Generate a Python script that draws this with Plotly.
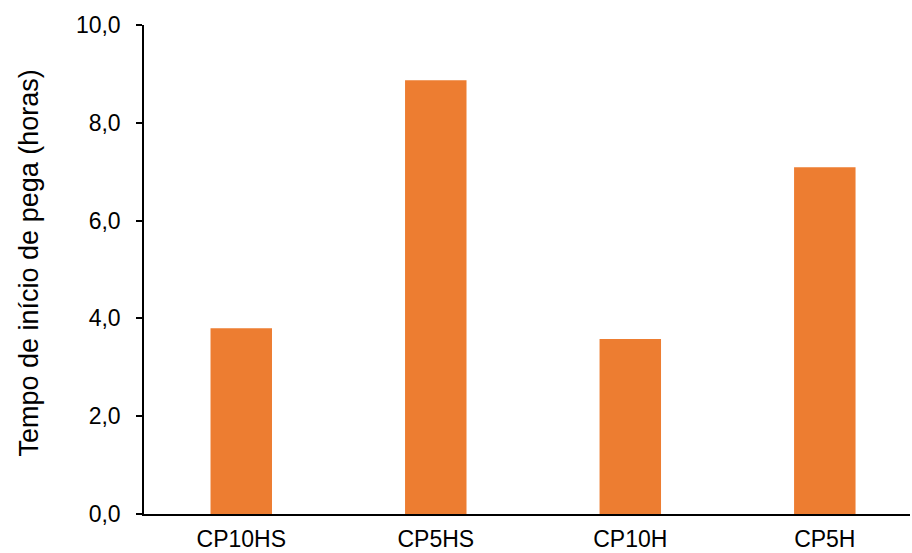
import plotly.graph_objects as go

categories = ["CP10HS", "CP5HS", "CP10H", "CP5H"]
values = [3.80, 8.87, 3.58, 7.09]
y_ticks = [0, 2, 4, 6, 8, 10]
y_tick_labels = ["0,0", "2,0", "4,0", "6,0", "8,0", "10,0"]
y_title = "Tempo de início de pega (horas)"

fig = go.Figure(
    go.Bar(
        x=list(range(len(categories))),
        y=values,
        width=0.316,
        marker=dict(color="#ED7D31", line=dict(width=0)),
    )
)

fig.update_layout(
    width=912,
    height=553,
    margin=dict(l=144, r=2, t=25, b=39, autoexpand=False),
    paper_bgcolor="white",
    plot_bgcolor="white",
    font=dict(family="Liberation Sans, Arial, sans-serif", color="black"),
    showlegend=False,
    annotations=[
        dict(
            text=y_title,
            xref="paper",
            yref="paper",
            x=0,
            y=0.5,
            xshift=-116,
            yshift=6,
            xanchor="center",
            yanchor="middle",
            textangle=-90,
            showarrow=False,
            font=dict(size=27),
        )
    ],
)

fig.update_xaxes(
    range=[-0.5, 3.438],
    tickmode="array",
    tickvals=list(range(len(categories))),
    ticktext=categories,
    showline=True,
    linecolor="black",
    linewidth=1.5,
    ticks="",
    ticklabelstandoff=4,
    showgrid=False,
    zeroline=False,
    automargin=False,
    tickfont=dict(size=23),
)

fig.update_yaxes(
    range=[0, 10],
    tickmode="array",
    tickvals=y_ticks,
    ticktext=y_tick_labels,
    showline=True,
    linecolor="black",
    linewidth=1.5,
    ticks="outside",
    ticklen=6,
    tickwidth=1.5,
    tickcolor="black",
    ticklabelstandoff=11,
    showgrid=False,
    zeroline=False,
    automargin=False,
    tickfont=dict(size=23),
)

fig.write_html("out.html")
